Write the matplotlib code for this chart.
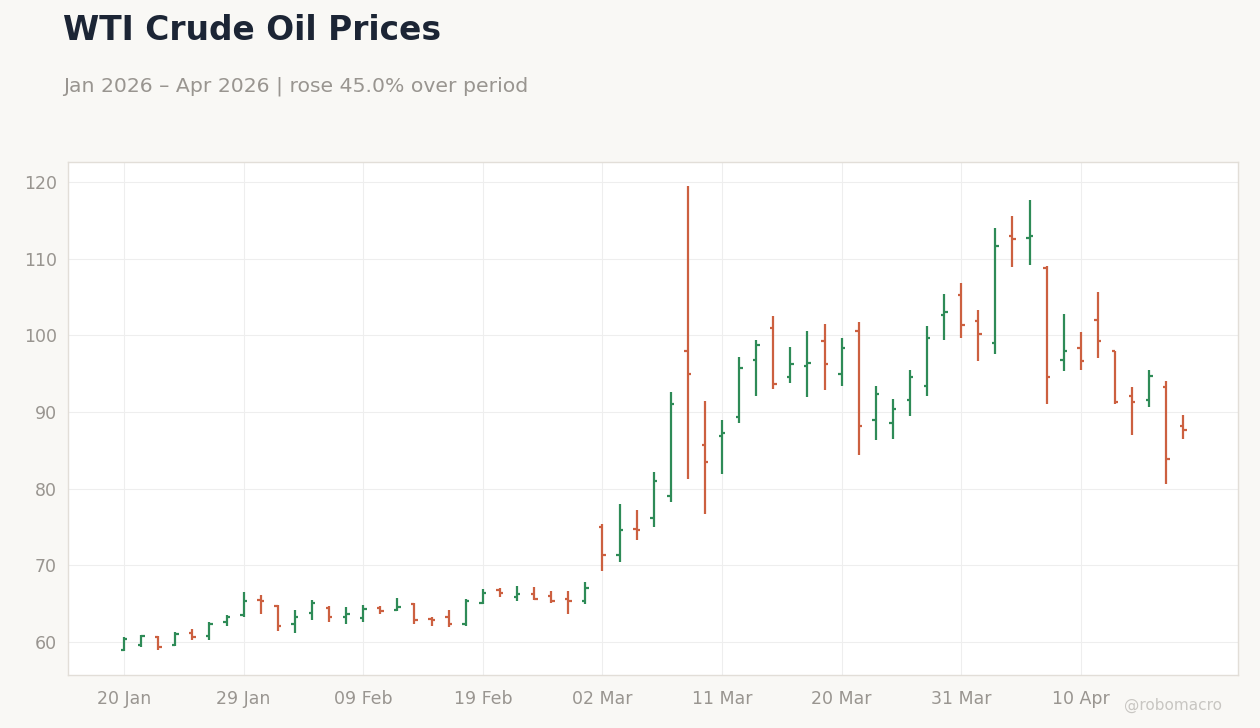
import numpy as np
import pandas as pd
import matplotlib
matplotlib.use("Agg")
import matplotlib.pyplot as plt

# trading days (US holidays Feb 16 and Apr 3 skipped)
dates = pd.bdate_range("2026-01-20", "2026-04-20", freq="C",
                       holidays=["2026-02-16", "2026-04-03"])

opens = [59.0, 59.6, 60.7, 59.6, 61.2, 60.8, 62.6, 63.5, 65.5, 64.7,
         62.3, 63.8, 64.5, 63.2, 63.1, 64.5, 64.2, 64.9, 63.0, 63.3,
         62.4, 65.1, 66.8, 65.9, 66.3, 66.0, 65.6, 65.4, 75.0, 71.3,
         74.8, 76.2, 79.1, 98.0, 85.7, 86.9, 89.4, 96.8, 101.0, 94.5,
         96.0, 99.2, 95.0, 100.6, 88.9, 88.6, 91.5, 93.4, 102.7, 105.2,
         101.8, 99.0, 113.0, 112.7, 108.8, 96.8, 98.3, 102.0, 98.0, 92.1,
         91.5, 93.3, 88.2]
highs = [60.6, 60.9, 60.8, 61.3, 61.7, 62.6, 63.5, 66.5, 66.1, 64.8,
         64.2, 65.5, 64.7, 64.6, 64.8, 64.7, 65.8, 65.1, 63.2, 64.2,
         65.6, 66.9, 67.0, 67.3, 67.2, 66.7, 66.7, 67.8, 75.4, 78.0,
         77.2, 82.2, 92.6, 119.5, 91.4, 89.0, 97.2, 99.4, 102.5, 98.5,
         100.6, 101.5, 99.7, 101.7, 93.4, 91.7, 95.5, 101.2, 105.4, 106.8,
         103.3, 114.0, 115.6, 117.7, 109.1, 102.8, 100.4, 105.7, 98.0, 93.3,
         95.5, 94.0, 89.6]
lows = [58.8, 59.3, 59.0, 59.5, 60.3, 60.2, 62.1, 63.3, 63.7, 61.5,
        61.2, 62.9, 62.6, 62.3, 62.6, 63.7, 64.1, 62.4, 62.1, 61.9,
        62.1, 64.9, 65.9, 65.4, 65.5, 65.1, 63.7, 64.9, 69.3, 70.5,
        73.3, 75.0, 78.3, 81.3, 76.7, 81.9, 88.6, 92.1, 93.0, 93.8,
        92.0, 92.9, 93.4, 84.4, 86.4, 86.5, 89.5, 92.1, 99.4, 99.7,
        96.6, 97.6, 108.9, 109.2, 91.1, 95.3, 95.5, 97.1, 91.1, 87.0,
        90.6, 80.6, 86.5]
closes = [60.4, 60.8, 59.4, 61.1, 60.7, 62.4, 63.3, 65.4, 65.3, 62.1,
          63.3, 65.1, 63.3, 63.6, 64.3, 64.0, 64.6, 62.9, 62.9, 62.4,
          65.3, 66.4, 66.4, 66.3, 65.6, 65.4, 65.3, 67.1, 71.3, 74.6,
          74.6, 81.0, 91.0, 94.9, 83.5, 87.3, 95.7, 98.8, 93.6, 96.3,
          96.4, 96.2, 98.4, 88.2, 92.4, 90.4, 94.5, 99.7, 103.0, 101.4,
          100.2, 111.6, 112.5, 113.0, 94.5, 97.9, 96.7, 99.2, 91.3, 91.3,
          94.7, 83.9, 87.6]

UP = "#2e8b57"
DOWN = "#cc6040"
BG = "#f9f8f5"

o = np.array(opens)
h = np.array(highs)
l = np.array(lows)
c = np.array(closes)
x = np.arange(len(dates))
colors = [UP if cc >= oo else DOWN for oo, cc in zip(o, c)]

fig = plt.figure(figsize=(12.6, 7.28), dpi=100, facecolor=BG)
ax = fig.add_axes([68 / 1260, 1 - 675 / 728, 1170 / 1260, 513 / 728])
ax.set_facecolor("white")

tw = 0.2
ax.vlines(x, l, h, colors=colors, linewidth=1.6)
ax.hlines(o, x - tw, x, colors=colors, linewidth=1.6)
ax.hlines(c, x, x + tw, colors=colors, linewidth=1.6)

ax.set_xlim(-3.28, 65.2)
ax.set_ylim(55.7, 122.6)
ax.set_yticks(np.arange(60, 121, 10))
tick_idx = list(range(0, len(dates), 7))
ax.set_xticks(tick_idx)
ax.set_xticklabels([dates[i].strftime("%d %b") for i in tick_idx])

ax.grid(True, color="#eeeeee", linewidth=0.8)
ax.set_axisbelow(True)
ax.tick_params(axis="y", length=0, labelsize=12.5, labelcolor="#999590", pad=8)
ax.tick_params(axis="x", length=0, labelsize=12.5, labelcolor="#999590", pad=11)
for s in ax.spines.values():
    s.set_color("#e2ded8")
    s.set_linewidth(1)

fig.text(63 / 1260, 1 - 31 / 728, "WTI Crude Oil Prices", fontsize=23.7,
         fontweight="bold", color="#1c2535", va="center", ha="left")
fig.text(63 / 1260, 1 - 86 / 728, "Jan 2026 – Apr 2026 | rose 45.0% over period",
         fontsize=14.7, color="#999590", va="center", ha="left")
fig.text(1222 / 1260, 1 - 705 / 728, "@robomacro", fontsize=11,
         color="#c8c6c2", va="center", ha="right")

fig.savefig("out.png", dpi=100, facecolor=BG)
